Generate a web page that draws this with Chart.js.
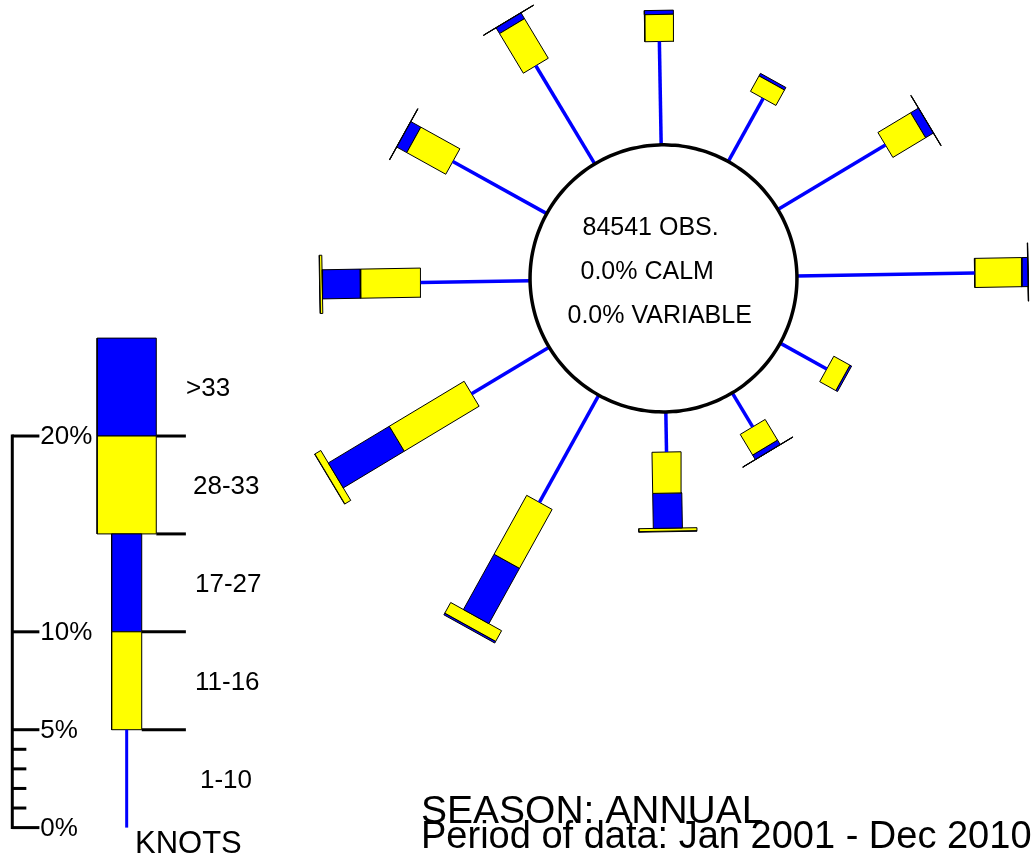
<!DOCTYPE html>
<html>
<head>
<meta charset="utf-8">
<script src="https://cdn.jsdelivr.net/npm/chart.js@4.4.1/dist/chart.umd.min.js"></script>
<style>
  html, body { margin: 0; padding: 0; background: #fff; }
  #rose { display: block; }
</style>
</head>
<body>
<canvas id="rose" width="1034" height="863"></canvas>
<script>
// Wind directions (degrees from north) and percent of observations per speed class
const directions = [0, 30, 60, 90, 120, 150, 180, 210, 240, 270, 300, 330];
const knots1to10 = [5.28, 3.69, 6.41, 9.08, 2.72, 2.03, 2.05, 6.26, 4.62, 5.59, 5.49, 5.85];
const knots11to16 = [1.38, 0.90, 1.95, 2.41, 0.94, 1.23, 2.10, 3.44, 4.46, 3.08, 2.28, 2.36];
const knots17to27 = [0.21, 0.15, 0.46, 0.31, 0.10, 0.26, 1.79, 3.23, 3.64, 1.95, 0.58, 0.34];
const knots28to33 = [0, 0, 0.01, 0.01, 0, 0.01, 0.15, 0.62, 0.35, 0.12, 0.01, 0.01];
const knotsOver33 = [0, 0, 0.01, 0.01, 0, 0.01, 0.03, 0.10, 0.02, 0.02, 0.01, 0.01];

// Key
const speedLabels = ['1-10', '11-16', '17-27', '28-33', '>33'];
const keyBand = 5; // each speed class drawn as 5% in the key
const axisTicks = [0, 5, 10, 20];
const minorTicks = [1, 2, 3, 4];

// Text
const obsCount = 84541;
const calmPct = 0.0;
const variablePct = 0.0;
const seasonText = 'SEASON: ANNUAL';
const periodText = 'Period of data: Jan 2001 - Dec 2010';

// layout (pixels) -> data units where 1 unit = 1 %
const PX = 19.5, CX = 663, CY = 279, W = 1034, H = 863;
const PAD = 1.75; // chart.js keeps half the widest border free round the chart area
const toX = px => (px - CX) / PX;
const toY = py => (CY - py) / PX;
const R0 = 133 / PX;       // calm circle radius
const ROT = -1;            // slight rotation of the whole rose
const NARROW = 14.5 / PX;  // half widths of the bars
const WIDE = 29 / PX;

const BLUE = '#0000ff';
const YELLOW = '#ffff00';

function along(deg, r) {
    const a = (deg + ROT) * Math.PI / 180;
    return { x: r * Math.sin(a), y: r * Math.cos(a) };
}

function box(deg, r1, r2, hw) {
    const a = (deg + ROT) * Math.PI / 180;
    const dx = Math.cos(a) * hw, dy = -Math.sin(a) * hw;
    const p1 = along(deg, r1), p2 = along(deg, r2);
    return [
        { x: p1.x + dx, y: p1.y + dy },
        { x: p2.x + dx, y: p2.y + dy },
        { x: p2.x - dx, y: p2.y - dy },
        { x: p1.x - dx, y: p1.y - dy },
        { x: p1.x + dx, y: p1.y + dy }
    ];
}

const datasets = [];

// calm circle in the middle
const ring = [];
for (let d = 0; d <= 360; d += 3) ring.push(along(d, R0));
datasets.push({
    data: ring,
    borderColor: '#000000',
    borderWidth: 3.5,
    backgroundColor: '#ffffff',
    fill: 'shape',
    tension: 0.4,
    pointRadius: 0
});

function addLine(data, color, width) {
    datasets.push({ data, borderColor: color, borderWidth: width, fill: false, pointRadius: 0, borderCapStyle: 'butt' });
}

function addBox(data, color) {
    datasets.push({ data, borderColor: '#000000', borderWidth: 1, backgroundColor: color, fill: 'shape', pointRadius: 0, borderJoinStyle: 'miter' });
}

// spokes and bars of the rose
directions.forEach((deg, i) => {
    let r = R0;
    addLine([along(deg, r), along(deg, r + knots1to10[i])], BLUE, 3.5);
    r += knots1to10[i];
    const parts = [
        [knots11to16[i], YELLOW, NARROW],
        [knots17to27[i], BLUE, NARROW],
        [knots28to33[i], YELLOW, WIDE],
        [knotsOver33[i], BLUE, WIDE]
    ];
    parts.forEach(([v, color, hw]) => {
        if (v > 0) {
            addBox(box(deg, r, r + v, hw), color);
            r += v;
        }
    });
});

// key: percent axis on the left
const axisX = toX(14);
const keyBase = toY(826);
const keyBarX = toX(128);
addLine([{ x: axisX, y: keyBase - 1.5 / PX }, { x: axisX, y: keyBase + axisTicks[axisTicks.length - 1] + 1.5 / PX }], '#000', 3);
axisTicks.forEach(t => addLine([{ x: axisX, y: keyBase + t }, { x: axisX + 27 / PX, y: keyBase + t }], '#000', 3));
minorTicks.forEach(t => addLine([{ x: axisX, y: keyBase + t }, { x: axisX + 14 / PX, y: keyBase + t }], '#000', 3));

// key: speed classes
const keyNarrow = 15 / PX, keyWide = 29.5 / PX;
addLine([{ x: keyBarX, y: keyBase }, { x: keyBarX, y: keyBase + keyBand }], BLUE, 3);
const keyStyles = [[YELLOW, keyNarrow], [BLUE, keyNarrow], [YELLOW, keyWide], [BLUE, keyWide]];
keyStyles.forEach(([color, hw], k) => {
    const y1 = keyBase + keyBand * (k + 1), y2 = y1 + keyBand;
    addBox([
        { x: keyBarX - hw, y: y1 }, { x: keyBarX + hw, y: y1 },
        { x: keyBarX + hw, y: y2 }, { x: keyBarX - hw, y: y2 },
        { x: keyBarX - hw, y: y1 }
    ], color);
});
// ticks right of the key bars
[1, 2, 3, 4].forEach(k => {
    const hw = k < 3 ? keyNarrow : keyWide;
    addLine([{ x: keyBarX + hw, y: keyBase + keyBand * k }, { x: toX(187), y: keyBase + keyBand * k }], '#000', 3);
});

const speedLabelX = [200, 195, 195, 193, 186];

const textPlugin = {
    id: 'roseText',
    afterDraw(chart) {
        const { ctx, scales: { x, y } } = chart;
        ctx.save();
        ctx.fillStyle = '#000';
        ctx.textBaseline = 'middle';
        ctx.textAlign = 'left';

        // centre text
        const cx = x.getPixelForValue(0), cy = y.getPixelForValue(0);
        ctx.font = '25px "Liberation Sans", Arial, sans-serif';
        ctx.fillText(obsCount + ' OBS.', cx - 81, cy - 50);
        ctx.fillText(calmPct.toFixed(1) + '% CALM', cx - 83, cy - 6);
        ctx.fillText(variablePct.toFixed(1) + '% VARIABLE', cx - 96, cy + 38);

        // key axis labels
        ctx.font = '26px "Liberation Sans", Arial, sans-serif';
        axisTicks.forEach(t => {
            ctx.fillText(t + '%', x.getPixelForValue(axisX) + 28, y.getPixelForValue(keyBase + t) + 1);
        });
        speedLabels.forEach((s, k) => {
            ctx.fillText(s, speedLabelX[k], y.getPixelForValue(keyBase + keyBand * (k + 0.5)) + 2);
        });
        ctx.font = '31px "Liberation Sans", Arial, sans-serif';
        ctx.textBaseline = 'alphabetic';
        ctx.fillText('KNOTS', 135, 853);

        // season / period
        ctx.font = '39px "Liberation Sans", Arial, sans-serif';
        ctx.fillText(seasonText, 421, 823);
        ctx.font = '38px "Liberation Sans", Arial, sans-serif';
        ctx.fillText(periodText, 421, 848);
        ctx.restore();
    }
};

new Chart(document.getElementById('rose'), {
    type: 'line',
    data: { datasets },
    options: {
        responsive: false,
        animation: false,
        events: [],
        layout: { padding: 0 },
        plugins: {
            legend: { display: false },
            tooltip: { enabled: false }
        },
        scales: {
            x: { type: 'linear', display: false, min: toX(PAD), max: toX(W - PAD) },
            y: { type: 'linear', display: false, min: toY(H - PAD), max: toY(PAD) }
        }
    },
    plugins: [textPlugin]
});
</script>
</body>
</html>
